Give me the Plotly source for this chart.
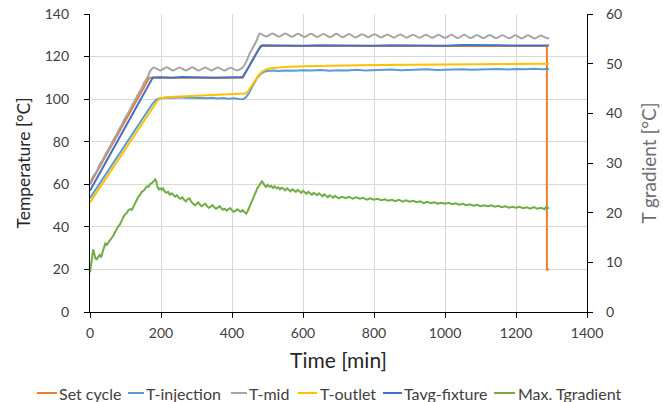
import plotly.graph_objects as go

# ---------------- data ----------------
set_t = [0, 167, 430, 480, 1287, 1287, 1293]
set_v = [60, 110, 110, 125, 125, 20, 20]

inj_t = [0, 15, 30, 45, 60, 75, 90, 105, 120, 135, 150, 165, 175, 185, 195, 210, 225, 240, 255, 270,
         285, 300, 315, 330, 345, 360, 375, 390, 405, 420, 432, 440, 450, 460, 470, 480, 490, 500, 515,
         530, 550, 575, 600, 625, 650, 675, 700, 725, 750, 775, 800, 825, 850, 875, 900, 925, 950, 975,
         1000, 1025, 1050, 1075, 1100, 1125, 1150, 1175, 1200, 1225, 1250, 1275, 1293]
inj_v = [53.5, 57.3, 61.1, 64.8, 68.6, 72.4, 76.2, 80.0, 83.7, 87.5, 91.3, 95.1, 97.6, 99.6, 100.3,
         100.6, 100.8, 100.6, 100.9, 100.6, 100.8, 100.5, 100.7, 100.4, 100.6, 100.3, 100.5, 100.2,
         100.4, 100.1, 100.0, 101.0, 103.5, 106.8, 109.8, 111.8, 112.8, 113.2, 113.4, 113.2, 113.5,
         113.3, 113.6, 113.4, 113.7, 113.3, 113.6, 113.5, 113.8, 113.5, 113.7, 113.6, 113.9, 113.6,
         113.8, 113.7, 114.0, 113.7, 113.9, 113.8, 114.1, 113.8, 114.0, 113.9, 114.2, 113.9, 114.2,
         114.0, 114.3, 114.1, 114.3]

mid_t = [0, 9, 18, 27, 36, 45, 54, 63, 72, 81, 90, 99, 108, 117, 126, 135, 144, 153, 162, 171,
         180, 198, 216, 234, 252, 270, 288, 306, 324, 342, 360, 378, 396, 414, 428, 440, 450, 460,
         470, 478, 496, 514, 532, 550, 568, 586, 604, 622, 640, 658, 676, 694, 712, 730, 748, 766,
         784, 802, 820, 838, 856, 874, 892, 910, 928, 946, 964, 982, 1000, 1018, 1036, 1054, 1072,
         1090, 1108, 1126, 1144, 1162, 1180, 1198, 1216, 1234, 1252, 1270, 1288, 1293]
mid_v = [60.5, 63.8, 65.8, 69.2, 71.5, 74.6, 77.0, 80.0, 82.6, 85.5, 88.1, 91.2, 93.6, 96.6, 99.2,
         102.2, 104.6, 107.8, 110.2, 113.6, 114.9, 113.5, 115.0, 113.4, 114.9, 113.5, 115.0, 113.4,
         114.9, 113.5, 114.9, 113.4, 114.8, 113.5, 114.6, 117.5, 121.5, 124.5, 127.8, 130.8, 129.4,
         130.8, 129.3, 130.8, 129.3, 130.7, 129.2, 130.7, 129.2, 130.6, 129.1, 130.7, 129.1, 130.6,
         129.0, 130.5, 129.1, 130.5, 129.0, 130.4, 128.9, 130.4, 128.9, 130.3, 128.8, 130.3, 128.8,
         130.2, 128.8, 130.2, 128.7, 130.2, 128.7, 130.1, 128.6, 130.1, 128.7, 130.0, 128.6, 130.0,
         128.5, 130.0, 128.5, 129.9, 128.5, 128.9]

out_t = [0, 15, 30, 45, 60, 75, 90, 105, 120, 135, 150, 165, 180, 190, 200, 215, 240, 270, 300, 330,
         360, 390, 420, 436, 445, 455, 465, 475, 485, 495, 510, 530, 560, 600, 650, 700, 800, 900,
         1000, 1100, 1200, 1293]
out_v = [51.5, 55.3, 59.1, 62.9, 66.7, 70.5, 74.3, 78.1, 81.9, 85.7, 89.5, 93.3, 97.0, 99.3, 100.4,
         100.9, 101.1, 101.3, 101.5, 101.7, 101.9, 102.1, 102.4, 102.6, 103.6, 106.0, 108.8, 111.3,
         113.0, 113.9, 114.5, 114.9, 115.2, 115.5, 115.7, 115.8, 116.0, 116.1, 116.2, 116.3, 116.4,
         116.6]

avg_t = [0, 20, 40, 60, 80, 100, 120, 140, 160, 177, 200, 230, 260, 290, 320, 350, 380, 410, 430,
         445, 460, 475, 485, 520, 560, 600, 650, 700, 750, 800, 850, 900, 950, 1000, 1050, 1100,
         1150, 1200, 1250, 1293]
avg_v = [57.0, 63.0, 69.1, 75.0, 81.1, 87.0, 93.1, 99.0, 105.0, 110.2, 110.3, 110.1, 110.4, 110.2,
         110.3, 110.1, 110.2, 110.3, 110.4, 114.5, 119.0, 123.3, 125.3, 125.2, 125.4, 125.1, 125.3,
         125.2, 125.4, 125.1, 125.3, 125.2, 125.3, 125.1, 125.4, 125.2, 125.3, 125.2, 125.3, 125.2]

grad_t = [0, 3, 6, 9, 12, 15, 19, 23, 27, 31, 35, 39, 43, 47, 52, 57, 62, 66, 70, 75, 80, 84, 88,
          93, 98, 103, 108, 113, 118, 122, 127, 131, 136, 141, 146, 151, 155, 160, 165, 170, 175,
          180, 184, 187, 190, 194, 198, 202, 206, 210, 215, 220, 225, 230, 235, 240, 245, 250, 255,
          260, 265, 270, 275, 280, 285, 290, 295, 300, 305, 310, 315, 320, 325, 330, 335, 340, 345,
          350, 355, 360, 365, 370, 375, 380, 385, 390, 395, 400, 405, 410, 415, 420, 425, 430, 435,
          440, 444, 448, 452, 456, 460, 464, 468, 472, 476, 480, 484, 488, 492, 496, 500, 505, 510,
          515, 520, 525, 530, 535, 540, 545, 550, 555, 560, 565, 570, 575, 580, 585, 590, 595, 600,
          605, 610, 615, 620, 625, 630, 635, 640, 645, 650, 655, 660, 665, 670, 675, 680, 685, 690,
          695, 700, 710, 720, 730, 740, 750, 760, 770, 780, 790, 800, 810, 820, 830, 840, 850, 860,
          870, 880, 890, 900, 910, 920, 930, 940, 950, 960, 970, 980, 990, 1000, 1010, 1020, 1030,
          1040, 1050, 1060, 1070, 1080, 1090, 1100, 1110, 1120, 1130, 1140, 1150, 1160, 1170, 1180,
          1190, 1200, 1210, 1220, 1230, 1240, 1250, 1260, 1270, 1280, 1286, 1290, 1293]
grad_v = [8.0, 9.5, 11.5, 12.6, 11.8, 10.8, 10.6, 11.0, 11.5, 11.0, 12.0, 13.2, 13.8, 13.5, 14.0,
          14.3, 14.8, 15.4, 16.0, 16.8, 17.3, 17.6, 18.3, 19.0, 19.6, 19.9, 20.5, 20.7, 20.6, 21.2,
          22.1, 22.8, 23.2, 23.6, 24.2, 24.4, 24.8, 25.3, 25.2, 25.8, 26.0, 26.3, 26.7, 26.2, 25.2,
          24.7, 24.9, 24.6, 24.9, 24.3, 24.0, 24.2, 23.6, 23.9, 23.5, 23.2, 23.5, 23.0, 22.8, 23.1,
          22.6, 22.3, 22.7, 22.9, 22.2, 21.9, 21.5, 21.7, 22.1, 21.6, 21.3, 21.6, 21.8, 21.3, 21.0,
          21.2, 21.5, 21.1, 20.8, 21.0, 21.3, 20.9, 20.6, 20.8, 20.4, 20.7, 20.9, 20.5, 20.2, 20.4,
          20.7, 20.4, 20.2, 20.5, 20.1, 19.8, 20.3, 21.0, 21.7, 22.4, 23.0, 23.6, 24.3, 25.0, 25.4,
          26.0, 26.3, 26.0, 25.4, 25.2, 25.6, 25.2, 25.4, 25.0, 25.3, 24.9, 25.1, 24.7, 25.0, 24.8,
          24.5, 24.9, 24.6, 24.3, 24.7, 24.4, 24.2, 24.6, 24.3, 24.0, 24.4, 24.1, 23.8, 24.2, 23.9,
          23.6, 24.0, 23.7, 23.5, 23.9, 23.5, 23.3, 23.7, 23.4, 23.1, 23.5, 23.2, 23.0, 23.4, 23.1,
          22.9, 23.2, 22.9, 23.2, 22.8, 23.1, 22.8, 23.0, 22.6, 22.9, 22.6, 22.8, 22.5, 22.7, 22.4,
          22.6, 22.3, 22.6, 22.2, 22.5, 22.2, 22.4, 22.1, 22.3, 21.9, 22.2, 21.9, 22.1, 21.8, 22.0,
          21.8, 22.0, 21.7, 21.9, 21.6, 21.8, 21.5, 21.7, 21.4, 21.6, 21.3, 21.5, 21.3, 21.5, 21.2,
          21.4, 21.1, 21.3, 21.0, 21.2, 21.0, 21.2, 20.9, 21.1, 20.8, 21.1, 20.8, 21.0, 20.7, 21.2,
          20.9, 21.0]

series_names = ["Set cycle", "T-injection", "T-mid", "T-outlet", "Tavg-fixture", "Max. Tgradient"]
series_colors = ["#ED7D31", "#5B9BD5", "#A5A5A5", "#FFC000", "#4472C4", "#70AD47"]

# ---------------- figure ----------------
FONT = "Lato"
W, H = 663, 402
ML, MR, MT, MB = 90, 76, 14, 90
PW, PH = W - ML - MR, H - MT - MB
LW = 2

fig = go.Figure()
data = [(set_t, set_v, "y", None), (inj_t, inj_v, "y", None), (mid_t, mid_v, "y", "spline"),
        (out_t, out_v, "y", None), (avg_t, avg_v, "y", None), (grad_t, grad_v, "y2", None)]
for (xs, ys, ax, shape), name, col in zip(data, series_names, series_colors):
    line = dict(color=col, width=LW)
    if shape:
        line.update(shape=shape, smoothing=0.8)
    fig.add_trace(go.Scatter(x=xs, y=ys, name=name, mode="lines", yaxis=ax,
                             line=line, showlegend=False))

# legend drawn in the Excel style (short swatch directly before the text); page pixels
leg_swatch_px = [(37, 57), (128, 144), (231, 247), (298, 317), (383, 402), (494, 515)]
leg_text_px = [58, 145, 248, 319, 403, 517]
leg_y_px = 393
def px_x(p):
    return (p - ML) / PW
def px_y(p):
    return (H - MB - p) / PH
for (a, b), tx, name, col in zip(leg_swatch_px, leg_text_px, series_names, series_colors):
    fig.add_shape(type="line", xref="paper", yref="paper", x0=px_x(a), x1=px_x(b),
                  y0=px_y(leg_y_px), y1=px_y(leg_y_px), line=dict(color=col, width=2))
    fig.add_annotation(xref="paper", yref="paper", x=px_x(tx), y=px_y(leg_y_px),
                       xanchor="left", yanchor="middle", text=name, showarrow=False,
                       font=dict(family=FONT, size=16, color="#404040"), borderpad=0)

TICKC = "#404040"
fig.update_layout(
    width=W, height=H,
    margin=dict(l=ML, r=MR, t=MT, b=MB),
    paper_bgcolor="white", plot_bgcolor="white",
    font=dict(family=FONT, color=TICKC, size=14),
    showlegend=False,
    xaxis=dict(range=[0, 1400], dtick=200, tick0=0, showgrid=True, gridcolor="#D9D9D9",
               gridwidth=1, showline=True, linecolor="black", linewidth=1.3, ticks="outside",
               ticklen=5, tickcolor="black", zeroline=False, automargin=False,
               ticklabeloverflow="allow",
               tickfont=dict(size=14, color=TICKC), ticklabelstandoff=3,
               title=dict(text="Time [min]", font=dict(size=21, color="#262626"), standoff=13)),
    yaxis=dict(range=[0, 140], dtick=20, tick0=0, showgrid=True, gridcolor="#D9D9D9",
               gridwidth=1, showline=True, linecolor="black", linewidth=1.3, ticks="outside",
               ticklen=5, tickcolor="black", zeroline=False, automargin=False,
               ticklabeloverflow="allow",
               tickfont=dict(size=14, color=TICKC), ticklabelstandoff=12,
               title=dict(text="Temperature [°C]", font=dict(size=17.5, color="#262626"), standoff=9)),
    yaxis2=dict(range=[0, 60], dtick=10, tick0=0, overlaying="y", side="right", showgrid=False,
                showline=True, linecolor="black", linewidth=1.3, ticks="outside", ticklen=5,
                tickcolor="black", zeroline=False, automargin=False,
                ticklabeloverflow="allow",
                tickfont=dict(size=14, color=TICKC), ticklabelstandoff=10,
                title=dict(text="T gradient [°C]", font=dict(size=19, color="#6f6f6f"), standoff=21)),
)

# remove the browser's default 8px page margin so the figure fills the window exactly
fig.write_html("out.html", config={"displayModeBar": False},
               post_script="document.body.style.margin='0';document.body.style.overflow='hidden';")
